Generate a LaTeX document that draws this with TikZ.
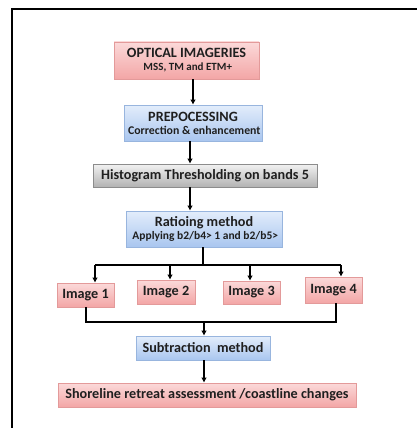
\documentclass[tikz,border=0pt]{standalone}
\usepackage{fontspec}
\setmainfont{Carlito}
\usetikzlibrary{arrows.meta,shadows}
\definecolor{rtop}{HTML}{FBD9D9}
\definecolor{rbot}{HTML}{F3A6A6}
\definecolor{rbrd}{HTML}{E39A9A}
\definecolor{btop}{HTML}{E3EDFB}
\definecolor{bbot}{HTML}{A9C6EF}
\definecolor{bbrd}{HTML}{98B5DE}
\definecolor{gtop}{HTML}{F2F2F2}
\definecolor{gbot}{HTML}{B2B2B2}
\definecolor{gbrd}{HTML}{8C8C8C}
\newcommand{\ttl}{\fontsize{14.2}{14}\selectfont}
\newcommand{\sbt}[1]{\fontsize{#1}{12}\selectfont}
\tikzset{
  box/.style={inner sep=0pt, align=center, font=\bfseries, text=black!88,
    line width=0.6pt, drop shadow={opacity=0.2, shadow xshift=1.2pt, shadow yshift=-1.2pt}},
  redbox/.style={box, draw=rbrd, top color=rtop, bottom color=rbot},
  bluebox/.style={box, draw=bbrd, top color=btop, bottom color=bbot},
  graybox/.style={box, draw=gbrd, top color=gtop, bottom color=gbot},
  arr/.style={line width=1.2pt, -{Latex[length=5pt,width=5.5pt]}},
  ln/.style={line width=1.2pt},
}
\begin{document}
\begin{tikzpicture}[x=1pt,y=-1pt]
\useasboundingbox (0,0) rectangle (417,428);
\fill[white] (0,0) rectangle (417,428);
\draw[line width=1.4pt] (425,9) -- (12,9) -- (12,436);

\node[redbox, minimum width=145pt, minimum height=37pt] (opt) at (186.5,60.5)
  {\ttl OPTICAL IMAGERIES\\[1pt]\sbt{11} MSS, TM and ETM+};
\node[bluebox, minimum width=138pt, minimum height=36pt] (pre) at (193,123)
  {\ttl PREPOCESSING\\[1pt]\sbt{11.8} Correction \& enhancement};
\node[graybox, minimum width=224pt, minimum height=23pt] (hist) at (205,175.5)
  {\ttl Histogram Thresholding on bands 5};
\node[bluebox, minimum width=156pt, minimum height=36pt] (ratio) at (204,229)
  {\ttl Ratioing method\\[1pt]\sbt{11.5} Applying b2/b4> 1 and b2/b5>};
\node[redbox, minimum width=57pt, minimum height=24pt] (img1) at (85.5,295) {\ttl Image 1};
\node[redbox, minimum width=58pt, minimum height=24pt] (img2) at (166,292) {\ttl Image 2};
\node[redbox, minimum width=57pt, minimum height=23pt] (img3) at (251.5,292.5) {\ttl Image 3};
\node[redbox, minimum width=57pt, minimum height=26pt] (img4) at (333.5,290) {\ttl Image 4};
\node[bluebox, minimum width=134pt, minimum height=24pt] (sub) at (203,348) {\ttl Subtraction\ \ method};
\node[redbox, minimum width=298pt, minimum height=24pt] (shore) at (207,395)
  {\ttl Shoreline retreat assessment /coastline changes};

\coordinate (a1) at (190,0);
\coordinate (sp) at (203,265);
\coordinate (s1) at (95,265);
\coordinate (s2) at (170,265);
\coordinate (s3) at (250,265);
\coordinate (s4) at (341,265);
\coordinate (m1) at (86,322);
\coordinate (m4) at (336,322);
\coordinate (mc) at (204,322);

\draw[arr] (pre.north |- opt.south) -- (pre.north);
\draw[arr] (a1 |- pre.south) -- (a1 |- hist.north);
\draw[arr] (a1 |- hist.south) -- (a1 |- ratio.north);
\draw[ln] (sp |- ratio.south) -- (sp);
\draw[ln] (s1) -- (s4);
\draw[arr] (s1) -- (s1 |- img1.north);
\draw[arr] (s2) -- (s2 |- img2.north);
\draw[arr] (s3) -- (s3 |- img3.north);
\draw[arr] (s4) -- (s4 |- img4.north);
\draw[ln] (m1 |- img1.south) -- (m1) -- (m4) -- (m4 |- img4.south);
\draw[arr] (mc) -- (mc |- sub.north);
\draw[arr] (mc |- sub.south) -- (mc |- shore.north);
\end{tikzpicture}
\end{document}
